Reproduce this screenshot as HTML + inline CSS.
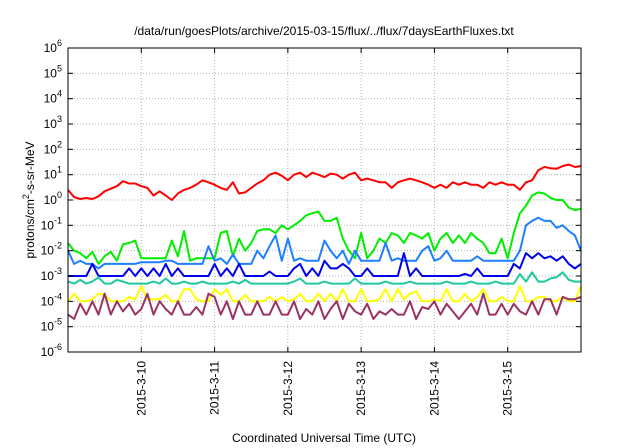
<!DOCTYPE html>
<html><head><meta charset="utf-8"><style>
html,body{margin:0;padding:0;background:#fff}
svg{display:block;font-family:"Liberation Sans",sans-serif}
</style></head><body>
<svg id="chart" width="640" height="448" viewBox="0 0 640 448">
<text x="324" y="35" font-size="12" text-anchor="middle" fill="#000">/data/run/goesPlots/archive/2015-03-15/flux/../flux/7daysEarthFluxes.txt</text>
<g id="grid"></g>
<g id="series"></g>
<rect x="68" y="48" width="513" height="304" fill="none" stroke="#000" stroke-width="1"/>
<g id="axes"></g>
<text transform="translate(34,200) rotate(-90)" font-size="12" text-anchor="middle">protons/cm<tspan dy="-5" font-size="9">2</tspan><tspan dy="5">-s-sr-MeV</tspan></text>
<text x="324" y="442" font-size="12" text-anchor="middle">Coordinated Universal Time (UTC)</text>
</svg>
<script>
const dayLabels=["2015-3-10","2015-3-11","2015-3-12","2015-3-13","2015-3-14","2015-3-15"];
const dayTicks=[1,2,3,4,5,6];
const yExps=[-6,-5,-4,-3,-2,-1,0,1,2,3,4,5,6];
const stepHours=2;
const seriesColors=["#ff0000","#00ee00","#1e7fff","#0000ee","#20c8a0","#ffff00","#993366"];
const red=[2.5,1.3,1.1,1.2,1.1,1.4,2.2,2.8,3.5,5.5,4.5,4.5,3.5,3,1.5,2.2,1.5,1,1.8,2.5,3,4,6,5,4,3,2.5,5,1.8,2,3,4.5,6,10,12,9,6,10,12,8,12,10,8,11,10,7,10,12,6,7,6,5,5,3,5,6,7,6,5,4,3,4,3,5,4,5,4,4,3,5,4,5,4,4,2.5,5,6,15,20,18,17,22,25,20,22];
const green=[0.02,0.01,0.008,0.005,0.009,0.003,0.006,0.009,0.004,0.018,0.02,0.025,0.005,0.005,0.005,0.005,0.005,0.025,0.006,0.06,0.004,0.005,0.005,0.005,0.005,0.05,0.06,0.006,0.03,0.01,0.02,0.06,0.07,0.07,0.05,0.1,0.07,0.1,0.15,0.25,0.3,0.35,0.15,0.15,0.2,0.03,0.01,0.005,0.05,0.005,0.01,0.03,0.02,0.05,0.04,0.02,0.05,0.04,0.03,0.05,0.01,0.03,0.05,0.02,0.04,0.02,0.05,0.03,0.02,0.008,0.008,0.03,0.005,0.05,0.3,0.6,1.5,2,1.8,1.2,1,1,0.5,0.4,0.45];
const ltblue=[0.01,0.003,0.004,0.003,0.003,0.002,0.003,0.003,0.003,0.003,0.003,0.003,0.0035,0.0035,0.0035,0.0035,0.004,0.004,0.003,0.003,0.003,0.003,0.003,0.015,0.004,0.005,0.003,0.007,0.003,0.003,0.003,0.01,0.005,0.015,0.04,0.004,0.03,0.004,0.005,0.004,0.004,0.004,0.025,0.01,0.005,0.01,0.003,0.01,0.004,0.004,0.004,0.004,0.02,0.004,0.005,0.004,0.004,0.004,0.01,0.015,0.004,0.005,0.01,0.004,0.004,0.004,0.004,0.006,0.004,0.004,0.004,0.004,0.004,0.004,0.01,0.1,0.15,0.2,0.15,0.15,0.08,0.1,0.06,0.04,0.01];
const dkblue=[0.001,0.001,0.001,0.001,0.003,0.001,0.001,0.001,0.001,0.001,0.002,0.001,0.002,0.001,0.002,0.001,0.003,0.001,0.002,0.001,0.001,0.001,0.001,0.001,0.003,0.001,0.002,0.001,0.003,0.001,0.001,0.001,0.001,0.0015,0.001,0.001,0.001,0.002,0.003,0.001,0.002,0.001,0.004,0.002,0.002,0.003,0.002,0.001,0.001,0.002,0.001,0.001,0.001,0.001,0.001,0.008,0.001,0.002,0.001,0.001,0.001,0.001,0.001,0.001,0.001,0.0012,0.001,0.002,0.001,0.001,0.001,0.001,0.001,0.003,0.002,0.008,0.005,0.008,0.005,0.006,0.004,0.006,0.003,0.002,0.003];
const teal=[0.0006,0.0005,0.0007,0.0005,0.0006,0.0009,0.0005,0.0005,0.0007,0.0006,0.0005,0.0005,0.0005,0.0005,0.0006,0.0005,0.0008,0.0005,0.0005,0.0006,0.0005,0.0005,0.0006,0.0005,0.0005,0.0005,0.0005,0.0006,0.0005,0.0007,0.0005,0.0005,0.0005,0.0005,0.0005,0.0005,0.0005,0.0006,0.0008,0.0005,0.0005,0.0005,0.0006,0.0005,0.0005,0.0005,0.0005,0.0008,0.0005,0.0005,0.0005,0.0005,0.0006,0.0005,0.0005,0.0005,0.0006,0.0005,0.0005,0.0005,0.0005,0.0005,0.0006,0.0005,0.0005,0.0005,0.0006,0.0005,0.0005,0.0005,0.0006,0.0005,0.0005,0.0005,0.0012,0.0006,0.0014,0.0006,0.0006,0.0008,0.0009,0.0014,0.0007,0.0006,0.0006];
const yellow=[0.0001,0.0002,0.0001,0.0001,0.00012,0.0002,0.00018,0.0001,0.0001,0.0001,0.00015,0.00012,0.0004,0.00012,0.00012,0.00012,0.00018,0.0001,0.0001,0.0003,0.0003,0.00012,0.0001,0.0001,0.0003,0.00018,0.0003,0.0001,0.0001,0.00018,0.0001,0.0001,0.0001,0.00015,0.0001,0.00015,0.0001,0.00012,0.0002,0.0001,0.0001,0.0002,0.0001,0.0002,0.0001,0.0003,0.0001,0.0001,0.0003,0.0001,0.0001,0.00012,0.0003,0.0001,0.0003,0.00012,0.0002,0.00025,0.0001,0.0001,0.00012,0.0001,0.0003,0.0001,0.0001,0.0002,0.0001,0.00015,0.0003,0.0001,0.0001,0.00015,0.0001,0.0001,0.0004,0.0001,0.0001,0.00015,0.00015,0.0001,0.0001,0.00015,0.0001,0.0001,0.0004];
const purple=[0.00003,0.00002,0.00008,0.00003,0.0001,0.00003,0.0002,0.00003,0.0001,0.00004,0.00008,0.00003,0.00005,0.0002,0.00003,0.0001,0.00005,0.00003,0.0001,0.00003,0.00003,0.00006,0.00003,0.0002,0.00015,0.00003,0.0001,0.00002,0.0001,0.00003,0.00003,0.0001,0.00003,0.00003,0.0001,0.00003,0.00003,0.0001,0.00002,0.00005,0.00003,0.0001,0.00002,0.00005,0.0001,0.00002,0.00008,0.00004,0.00003,0.00008,0.00002,0.00004,0.00003,0.00005,0.00003,0.00003,0.0001,0.00002,0.00006,0.00005,0.0001,0.00003,0.00008,0.00004,0.00002,0.00004,0.00008,0.00003,0.0002,0.00003,0.00003,0.00008,0.00003,0.00008,0.00004,0.00003,0.0001,0.00003,0.00012,0.00012,0.00003,0.00015,0.00012,0.00012,0.00015];
const allSeries=[red,green,ltblue,dkblue,teal,yellow,purple];
const seriesNames=["series-red","series-green","series-light-blue","series-dark-blue","series-teal","series-yellow","series-purple"];

const X0=68,X1=581,Y0=48,Y1=352,DAYS=7;
const xs=d=>X0+(d/DAYS)*(X1-X0);
const ys=v=>Y1-(Math.log10(v)+6)/12*(Y1-Y0);
const NS="http://www.w3.org/2000/svg";
function mk(tag,attrs,parent){const e=document.createElementNS(NS,tag);for(const k in attrs)e.setAttribute(k,attrs[k]);parent.appendChild(e);return e;}
const grid=document.getElementById('grid'),axes=document.getElementById('axes'),ser=document.getElementById('series');
yExps.forEach(p=>{
  const y=ys(Math.pow(10,p));
  if(p>-6&&p<6){const l=mk('line',{x1:X0,x2:X1,y1:y,y2:y,stroke:'#b0b0b0','stroke-dasharray':'1,2','stroke-width':1},grid);
  
  }
  const t=mk('text',{x:X0-6,y:y+4,'font-size':12,'text-anchor':'end'},axes);
  
  
  t.innerHTML='10<tspan dy="-6" font-size="9">'+p+'</tspan>';
  mk('line',{x1:X0,x2:X0+5,y1:y,y2:y,stroke:'#000'},axes);
  mk('line',{x1:X1,x2:X1-5,y1:y,y2:y,stroke:'#000'},axes);
});
dayTicks.forEach((d,i)=>{
  const x=xs(d);
  const l=mk('line',{x1:x,x2:x,y1:Y0,y2:Y1,stroke:'#b0b0b0','stroke-dasharray':'1,2','stroke-width':1},grid);
  
  
  mk('line',{x1:x,x2:x,y1:Y1,y2:Y1-5,stroke:'#000'},axes);
  mk('line',{x1:x,x2:x,y1:Y0,y2:Y0+5,stroke:'#000'},axes);
  const t=mk('text',{transform:'translate('+(x+4)+',361) rotate(-90)','font-size':12,'text-anchor':'end'},axes);
  
  
  t.textContent=dayLabels[i];
});
allSeries.forEach((arr,si)=>{
  const pts=arr.map((v,i)=>xs(i*stepHours/24).toFixed(1)+','+ys(v).toFixed(1)).join(' ');
  const pl=mk('polyline',{points:pts,fill:'none',stroke:seriesColors[si],'stroke-width':2,'stroke-linejoin':'round'},ser);
  
  
});
</script>
</body></html>
